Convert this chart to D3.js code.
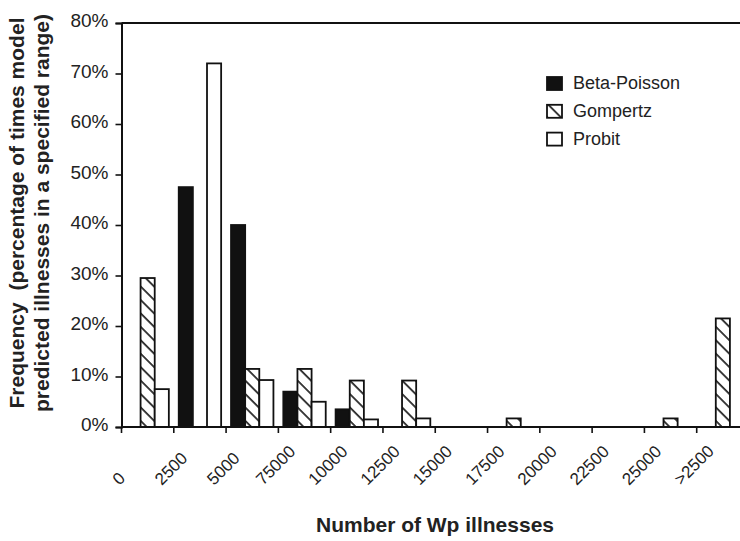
<!DOCTYPE html>
<html>
<head>
<meta charset="utf-8">
<script src="https://cdn.jsdelivr.net/npm/d3@7"></script>
<style>
  html, body { margin: 0; padding: 0; background: #fff; }
  svg { display: block; font-family: "Liberation Sans", Arial, Helvetica, sans-serif; }
</style>
</head>
<body>
<svg id="chart" width="740" height="541"></svg>
<script>
// Range labels on the x axis (left edge of each bin)
const categories = ["0", "2500", "5000", "75000", "10000", "12500", "15000",
                    "17500", "20000", "22500", "25000", ">2500"];
const seriesNames = ["Beta-Poisson", "Gompertz", "Probit"];

// Frequency (%) of predictions per range, for each dose-response model
const betaPoisson = [0, 47.5, 40, 7, 3.5, 0, 0, 0, 0, 0, 0, 0];
const gompertz    = [29.5, 0, 11.5, 11.5, 9.2, 9.2, 0, 1.7, 0, 0, 1.7, 21.5];
const probit      = [7.5, 72, 9.3, 5, 1.5, 1.7, 0, 0, 0, 0, 0, 0];

const yTicks = [0, 10, 20, 30, 40, 50, 60, 70, 80];

const seriesValues = [betaPoisson, gompertz, probit];

const svg = d3.select("#chart");
const W = 740, H = 541;
const plotLeft = 121.5, plotTop = 23, plotBottom = 427, plotRight = 749;

const x0 = d3.scaleBand().domain(categories).range([plotLeft, plotRight]).paddingInner(0).paddingOuter(0);
const x1 = d3.scaleBand().domain(seriesNames).range([0, x0.bandwidth()]).paddingInner(0).paddingOuter(0.35);
const y = d3.scaleLinear().domain([0, 80]).range([plotBottom, plotTop]);

// Hatch pattern for the Gompertz series
const hatchGap = 9.5;
const defs = svg.append("defs");
defs.append("pattern")
  .attr("id", "hatch")
  .attr("patternUnits", "userSpaceOnUse")
  .attr("width", hatchGap).attr("height", hatchGap)
  .attr("patternTransform", "rotate(-45)")
  .call(p => {
    p.append("rect").attr("width", hatchGap).attr("height", hatchGap).attr("fill", "#fff");
    p.append("line").attr("x1", 1).attr("y1", 0).attr("x2", 1).attr("y2", hatchGap)
      .attr("stroke", "#111").attr("stroke-width", 1.6);
  });

const fills = { "Beta-Poisson": "#111", "Gompertz": "url(#hatch)", "Probit": "#fff" };

// Bars
const rows = categories.map((c, i) => ({
  cat: c,
  vals: seriesNames.map((s, k) => ({ series: s, value: seriesValues[k][i] }))
}));

const groups = svg.append("g").selectAll("g")
  .data(rows).join("g")
  .attr("transform", d => `translate(${x0(d.cat)},0)`);

groups.selectAll("rect")
  .data(d => d.vals.filter(v => v.value > 0))
  .join("rect")
  .attr("x", v => x1(v.series))
  .attr("width", x1.bandwidth())
  .attr("y", v => y(v.value))
  .attr("height", v => y(0) - y(v.value))
  .attr("fill", v => fills[v.series])
  .attr("stroke", "#111")
  .attr("stroke-width", 1.8);

// Frame: top line, left axis, bottom axis
svg.append("line").attr("x1", plotLeft).attr("x2", W).attr("y1", y(80)).attr("y2", y(80))
  .attr("stroke", "#111").attr("stroke-width", 2);

const yAxis = svg.append("g")
  .attr("transform", `translate(${plotLeft},0)`)
  .call(d3.axisLeft(y).tickValues(yTicks).tickSize(6).tickFormat(d => d + "%"));
yAxis.select(".domain").attr("stroke", "#111").attr("stroke-width", 2);
yAxis.selectAll(".tick line").attr("stroke", "#111").attr("stroke-width", 1.6);
yAxis.selectAll(".tick text")
  .attr("x", -13)
  .attr("dy", "0.2em")
  .attr("font-size", 19)
  .attr("fill", "#222")
  .attr("font-family", "Liberation Sans, Arial, sans-serif");

const xAxis = svg.append("g")
  .attr("transform", `translate(0,${plotBottom})`)
  .call(d3.axisBottom(x0).tickSize(6).tickSizeOuter(0).tickFormat(d => d));
xAxis.select(".domain").attr("stroke", "#111").attr("stroke-width", 2)
  .attr("d", `M${plotLeft},0H${W}`);
xAxis.selectAll(".tick")
  .attr("transform", d => `translate(${x0(d)},0)`);
xAxis.selectAll(".tick line").attr("stroke", "#111").attr("stroke-width", 1.6);

// Slanted labels: each label's rotated box is centred just left of its tick,
// with the box bottoms aligned on one line below the axis.
const labelSize = 17, labelAscent = 0.72 * labelSize;
xAxis.selectAll(".tick text")
  .attr("x", 0).attr("y", 0).attr("dy", 0)
  .attr("text-anchor", "start")
  .attr("font-size", labelSize)
  .attr("fill", "#222")
  .attr("font-family", "Liberation Sans, Arial, sans-serif")
  .each(function () {
    const w = this.getComputedTextLength();
    const sx = -3 - Math.SQRT1_2 * (w - labelAscent) / 2;
    d3.select(this).attr("transform", `translate(${sx},59) rotate(-45)`);
  });

// Axis titles
svg.append("text")
  .attr("x", 435).attr("y", 532)
  .attr("text-anchor", "middle")
  .attr("font-weight", "bold")
  .attr("font-size", 21)
  .attr("fill", "#222")
  .text("Number of Wp illnesses");

const yTitle = svg.append("text")
  .attr("transform", "translate(0,213) rotate(-90)")
  .attr("text-anchor", "middle")
  .attr("font-weight", "bold")
  .attr("font-size", 21)
  .attr("fill", "#222");
yTitle.append("tspan").attr("x", 0).attr("y", 24).text("Frequency\u00a0\u00a0(percentage of times model");
yTitle.append("tspan").attr("x", 0).attr("y", 49).text("predicted illnesses in a specified range)");

// Legend
const legend = svg.append("g").attr("transform", "translate(547,77)");
const li = legend.selectAll("g").data(seriesNames).join("g")
  .attr("transform", (d, i) => `translate(0,${i * 27.8})`);
li.append("rect")
  .attr("width", 15).attr("height", 13)
  .attr("fill", d => fills[d])
  .attr("stroke", "#111").attr("stroke-width", 1.8);
li.append("text")
  .attr("x", 26).attr("y", 12)
  .attr("font-size", 18)
  .attr("fill", "#222")
  .text(d => d);
</script>
</body>
</html>
